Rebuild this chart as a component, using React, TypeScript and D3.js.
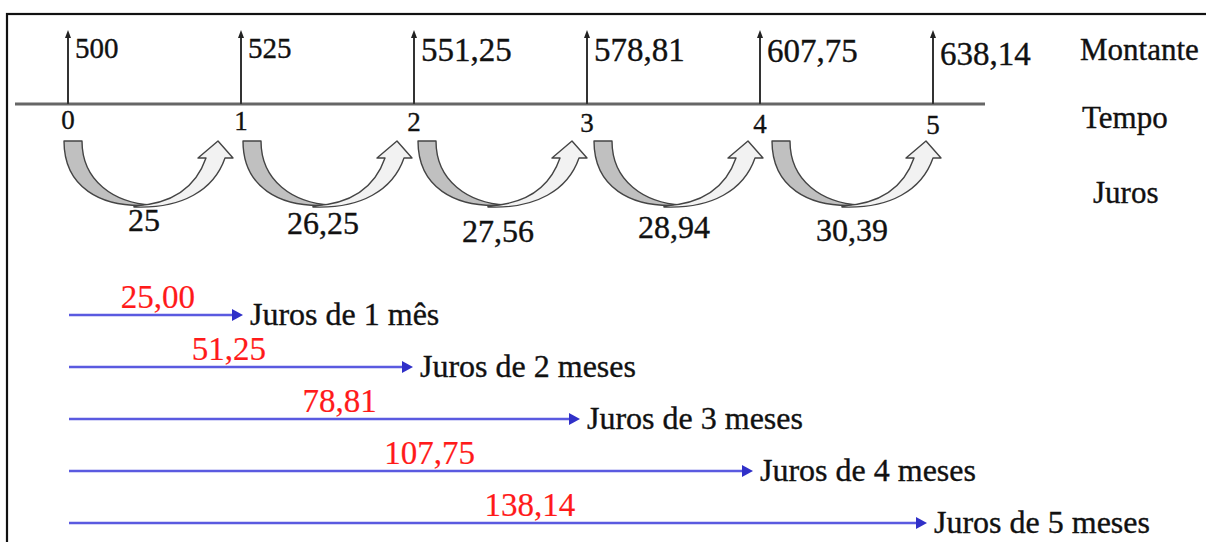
import React from "react";
import * as d3 from "d3";

// ---- data ----
const periods = [0, 1, 2, 3, 4, 5];
const montante = [500, 525, 551.25, 578.81, 607.75, 638.14];
const juros = [25, 26.25, 27.56, 28.94, 30.39];
const jurosAcumulados = [25.0, 51.25, 78.81, 107.75, 138.14];
const jurosLabels = ["Juros de 1 mês", "Juros de 2 meses", "Juros de 3 meses", "Juros de 4 meses", "Juros de 5 meses"];
const rowTitles = ["Montante", "Tempo", "Juros"];

// ---- layout (positions only) ----
const W = 1206;
const H = 542;
const montanteBaseline = [58, 58, 61, 61, 62, 65];
const montanteSize = [29, 29, 33, 33, 33, 33];
const curveShift = [-4, 2, 4, 7, 12];
const curveLabelBaseline = [231, 234, 242, 238, 241];
const redLabelT = [0.52, 0.93, 1.57, 2.09, 2.67];
const tipShift = [2, -1, -7, -7, -6];

const FONT = "'Liberation Serif', 'Times New Roman', Times, serif";

const fmtTop = (v: number) => (Number.isInteger(v) ? String(v) : v.toFixed(2).replace(".", ","));
const fmt2 = (v: number) => v.toFixed(2).replace(".", ",");

export default function App() {
  const x = d3.scaleLinear().domain([0, 5]).range([68, 933]);
  const axisY = 104;
  const rowY = d3.scaleLinear().domain([0, 4]).range([315, 523]);

  const curvePaths = juros.map((_, i) => {
    const bl = x(i) + curveShift[i];
    const grey = d3.path();
    grey.moveTo(bl, 141);
    grey.lineTo(bl + 18, 141);
    grey.bezierCurveTo(bl + 18, 181, bl + 50, 203, bl + 88, 205);
    grey.bezierCurveTo(bl + 35, 209, bl, 186, bl, 141);
    grey.closePath();
    const light = d3.path();
    light.moveTo(bl + 70, 207);
    light.bezierCurveTo(bl + 118, 209, bl + 150, 190, bl + 161, 158);
    light.lineTo(bl + 169, 158);
    light.lineTo(bl + 154, 141);
    light.lineTo(bl + 134, 158);
    light.lineTo(bl + 142, 158);
    light.bezierCurveTo(bl + 132, 187, bl + 110, 204, bl + 70, 206);
    light.closePath();
    return { bl, grey: grey.toString(), light: light.toString() };
  });

  const txt = { fill: "#111", stroke: "#111", strokeWidth: 0.35 };

  return (
    <svg
      width={W}
      height={H}
      style={{ position: "absolute", left: 0, top: 0, background: "#fff" }}
      fontFamily={FONT}
    >
      <rect x={0} y={0} width={W} height={H} fill="#fff" />
      {/* frame */}
      <rect x={7} y={14} width={W + 20} height={H + 20} fill="none" stroke="#111" strokeWidth={2.2} />

      {/* time axis */}
      <line x1={15} x2={985} y1={axisY} y2={axisY} stroke="#666" strokeWidth={3} />

      {periods.map((p, i) => {
        const px = x(p);
        return (
          <g key={"p" + i}>
            <line x1={px} x2={px} y1={axisY} y2={36} stroke="#333" strokeWidth={2} />
            <path d={`M${px - 3},${38} L${px},${30} L${px + 3},${38} Z`} fill="#222" />
            <text x={px + 7} y={montanteBaseline[i]} fontSize={montanteSize[i]} {...txt}>
              {fmtTop(montante[i])}
            </text>
            <text x={px} y={129 + i} fontSize={27} textAnchor="middle" {...txt}>
              {p}
            </text>
          </g>
        );
      })}

      {/* row titles */}
      <text x={1080} y={60} fontSize={31} {...txt}>{rowTitles[0]}</text>
      <text x={1082} y={128} fontSize={31} {...txt}>{rowTitles[1]}</text>
      <text x={1093} y={203} fontSize={31} {...txt}>{rowTitles[2]}</text>

      {/* curved arrows */}
      {curvePaths.map((c, i) => (
        <g key={"c" + i}>
          <path d={c.grey} fill="#c0c0c0" stroke="#444" strokeWidth={1.4} strokeLinejoin="round" />
          <path d={c.light} fill="#f2f2f2" stroke="#444" strokeWidth={1.4} strokeLinejoin="round" />
          <text x={c.bl + 80} y={curveLabelBaseline[i]} fontSize={32} textAnchor="middle" {...txt}>
            {fmtTop(juros[i])}
          </text>
        </g>
      ))}

      {/* accumulated interest arrows */}
      {jurosAcumulados.map((v, i) => {
        const y = rowY(i);
        const tip = x(i + 1) + tipShift[i];
        return (
          <g key={"a" + i}>
            <line x1={69} x2={tip - 8} y1={y} y2={y} stroke="#5a5ae0" strokeWidth={2.4} />
            <path d={`M${tip - 11},${y - 6} L${tip},${y} L${tip - 11},${y + 6} Z`} fill="#3030c8" />
            <text x={x(redLabelT[i])} y={y - 7} fontSize={33} fill="#ff1a1a" stroke="#ff1a1a" strokeWidth={0.2} textAnchor="middle">
              {fmt2(v)}
            </text>
            <text x={tip + 7} y={y + 10} fontSize={32} {...txt}>
              {jurosLabels[i]}
            </text>
          </g>
        );
      })}
    </svg>
  );
}
